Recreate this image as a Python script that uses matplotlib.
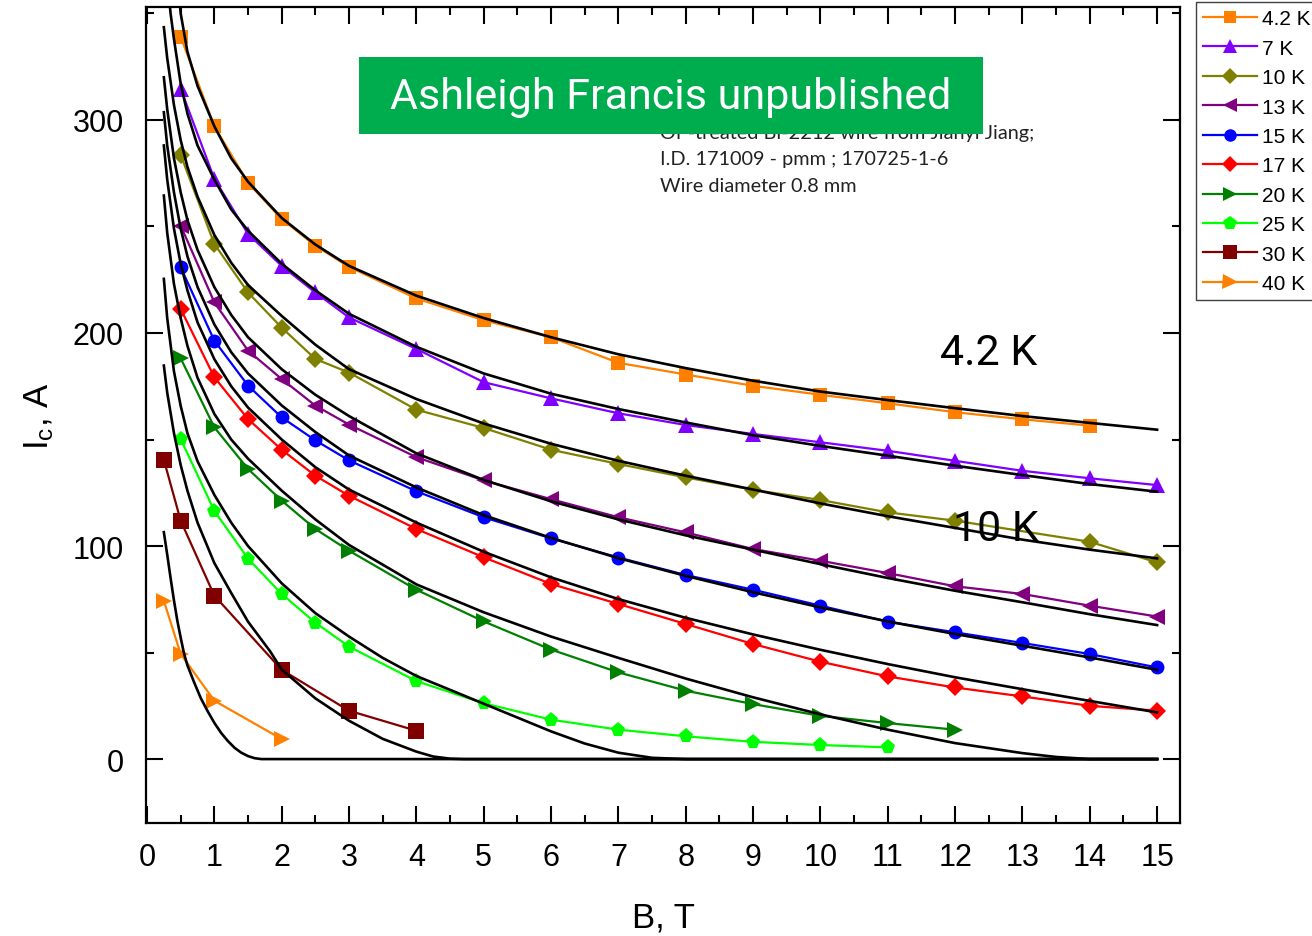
import matplotlib
matplotlib.use("Agg")
import matplotlib.pyplot as plt
from matplotlib.ticker import MultipleLocator
from matplotlib.patches import Rectangle

# ---------------- measured data (Ic vs B) ----------------
temps = ["4.2 K", "7 K", "10 K", "13 K", "15 K", "17 K", "20 K", "25 K", "30 K", "40 K"]

B_42 = [0.5, 1, 1.5, 2, 2.5, 3, 4, 5, 6, 7, 8, 9, 10, 11, 12, 13, 14]
I_42 = [339, 297, 270.5, 253.5, 241, 231, 216.2, 206, 198, 186, 180.5, 175.2, 171, 167, 162.8, 159.5, 156.5]

B_7 = [0.5, 1, 1.5, 2, 2.5, 3, 4, 5, 6, 7, 8, 9, 10, 11, 12, 13, 14, 15]
I_7 = [314.6, 272.3, 246.5, 231.5, 219, 207.3, 192.5, 176.9, 169.3, 162.3, 156.8, 152.6, 148.7, 144.7, 140, 135.3, 131.8, 128.6]

B_10 = [0.5, 1, 1.5, 2, 2.5, 3, 4, 5, 6, 7, 8, 9, 10, 11, 12, 14, 15]
I_10 = [283.6, 241.8, 219, 202.5, 187.8, 181.4, 164, 155.4, 145.2, 138.5, 132.2, 126.4, 121.6, 115.8, 111.9, 102, 92.3]

B_13 = [0.5, 1, 1.5, 2, 2.5, 3, 4, 5, 6, 7, 8, 9, 10, 11, 12, 13, 14, 15]
I_13 = [250.4, 214.4, 191.7, 178.4, 165.9, 157, 141.7, 130.8, 122, 113.5, 106.4, 98.6, 93.1, 87.3, 81.1, 77.5, 72, 66.9]

B_15 = [0.5, 1, 1.5, 2, 2.5, 3, 4, 5, 6, 7, 8, 9, 10, 11, 12, 13, 14, 15]
I_15 = [230.8, 196.4, 175.3, 160.4, 149.6, 140.2, 125.7, 113.5, 103.6, 94.6, 86.4, 79.5, 72, 64.5, 59.5, 54.5, 49.3, 43]

B_17 = [0.5, 1, 1.5, 2, 2.5, 3, 4, 5, 6, 7, 8, 9, 10, 11, 12, 13, 14, 15]
I_17 = [211.3, 179.2, 159.6, 145.2, 133, 123.6, 108, 94.7, 82.2, 72.8, 63.4, 54, 45.7, 38.8, 33.6, 29.4, 25, 22.7]

B_20 = [0.5, 1, 1.5, 2, 2.5, 3, 4, 5, 6, 7, 8, 9, 10, 11, 12]
I_20 = [188.1, 155.7, 136.2, 121.3, 108, 97.8, 79.5, 64.6, 51.4, 40.7, 32.1, 25.8, 20.3, 16.9, 13.8]

B_25 = [0.5, 1, 1.5, 2, 2.5, 3, 4, 5, 6, 7, 8, 9, 10, 11]
I_25 = [150.2, 116.5, 94.1, 77.5, 64, 52.8, 36.6, 26.2, 18.5, 13.8, 10.7, 8.1, 6.6, 5.5]

B_30 = [0.25, 0.5, 1, 2, 3, 4]
I_30 = [140.5, 111.9, 76.7, 41.9, 22.7, 13.3]

B_40 = [0.25, 0.5, 1, 2]
I_40 = [74.3, 49.3, 27.4, 9.4]

# ---------------- fitted curves (black) ----------------
fB_42 = [0.45, 0.5, 0.6, 0.75, 1, 1.25, 1.5, 2, 2.5, 3, 4, 5, 6, 7, 8, 9, 10, 11, 12, 13, 14, 15]
fI_42 = [368, 350, 332, 316, 297, 282, 271, 254, 241.5, 231.5, 217.5, 207, 198, 190, 183.5, 177.6, 172.5, 168.5, 164.7, 161, 157.8, 154.6]

fB_7 = [0.3, 0.35, 0.4, 0.5, 0.6, 0.75, 1, 1.25, 1.5, 2, 2.5, 3, 4, 5, 6, 7, 8, 9, 10, 11, 12, 13, 14, 15]
fI_7 = [366, 350, 338, 317, 303, 288, 272, 258, 248, 232.5, 220, 209, 193.5, 181, 171.5, 164.3, 158, 152, 147, 142.4, 137.7, 133.3, 129.1, 125.5]

fB_10 = [0.25, 0.3, 0.4, 0.5, 0.6, 0.75, 1, 1.25, 1.5, 2, 2.5, 3, 4, 5, 6, 7, 8, 9, 10, 11, 12, 13, 14, 15]
fI_10 = [343.5, 329, 307, 290.5, 278, 264, 246, 233, 222.5, 208, 194.5, 183, 169, 157.5, 148, 140, 133, 126.5, 120, 114, 108.5, 103, 98.3, 94.2]

fB_13 = [0.25, 0.3, 0.4, 0.5, 0.6, 0.75, 1, 1.25, 1.5, 2, 2.5, 3, 4, 5, 6, 7, 8, 9, 10, 11, 12, 13, 14, 15]
fI_13 = [320, 305, 282, 266, 253, 239, 221.5, 208.5, 198, 183, 171, 161, 143.5, 131, 121, 112.5, 105, 98.3, 91.5, 85, 79, 73.6, 68, 62.9]

fB_15 = [0.25, 0.3, 0.4, 0.5, 0.6, 0.75, 1, 1.25, 1.5, 2, 2.5, 3, 4, 5, 6, 7, 8, 9, 10, 11, 12, 13, 14, 15]
fI_15 = [303.6, 288, 266, 249, 236, 221.6, 204, 191, 181, 166, 153.5, 142.5, 127.5, 114.5, 103.8, 94.3, 86, 78.3, 71.2, 64.6, 58.7, 53.2, 47.7, 41.9]

fB_17 = [0.25, 0.3, 0.4, 0.5, 0.6, 0.75, 1, 1.25, 1.5, 2, 2.5, 3, 4, 5, 6, 7, 8, 9, 10, 11, 12, 13, 14, 15]
fI_17 = [288, 272, 249, 232.5, 220, 205, 187.7, 175, 165, 150, 137, 126.5, 111, 97.3, 85.3, 75.1, 66.3, 58.5, 51.3, 44.6, 38.4, 32.8, 27.3, 21.9]

fB_20 = [0.25, 0.3, 0.4, 0.5, 0.6, 0.75, 1, 1.25, 1.5, 2, 2.5, 3, 4, 5, 6, 7, 8, 9, 10, 11, 12, 13, 13.5, 14, 15]
fI_20 = [264.5, 247, 223, 207, 194, 179, 162, 150, 141, 126, 112.5, 100.5, 82, 68.9, 57.5, 47.5, 37.8, 29, 21, 13.8, 7.5, 2.8, 1.0, 0, 0]

fB_25 = [0.25, 0.3, 0.4, 0.5, 0.6, 0.75, 1, 1.25, 1.5, 2, 2.5, 3, 3.5, 4, 5, 5.5, 6, 6.5, 7, 7.5, 8, 15]
fI_25 = [225.4, 207, 182, 165.8, 153, 139.8, 124, 111, 100, 82.5, 68.5, 57.5, 47.5, 39, 26, 19.5, 13, 7.3, 3, 0.6, 0, 0]

fB_30 = [0.25, 0.3, 0.4, 0.5, 0.6, 0.75, 1, 1.25, 1.5, 1.83, 2, 2.5, 3, 3.5, 4, 4.25, 4.5, 4.7, 15]
fI_30 = [184.7, 172, 153, 138, 126, 111, 92, 78, 64.5, 50.5, 42, 28.5, 18, 9.5, 3.5, 1.2, 0.2, 0, 0]

fB_40 = [0.25, 0.3, 0.35, 0.4, 0.45, 0.5, 0.55, 0.6, 0.7, 0.8, 0.9, 1.0, 1.1, 1.2, 1.3, 1.4, 1.5, 1.6, 1.7, 15]
fI_40 = [106.5, 96, 85, 74.5, 65, 57, 49.5, 44, 36, 28.5, 22.5, 17, 12.3, 8.5, 5.3, 3, 1.4, 0.4, 0, 0]

data_B = [B_42, B_7, B_10, B_13, B_15, B_17, B_20, B_25, B_30, B_40]
data_I = [I_42, I_7, I_10, I_13, I_15, I_17, I_20, I_25, I_30, I_40]
fit_B = [fB_42, fB_7, fB_10, fB_13, fB_15, fB_17, fB_20, fB_25, fB_30, fB_40]
fit_I = [fI_42, fI_7, fI_10, fI_13, fI_15, fI_17, fI_20, fI_25, fI_30, fI_40]

colors = ["#FF8000", "#8000FF", "#808000", "#800080", "#0000FF",
          "#FF0000", "#008000", "#00FF00", "#800000", "#FF8000"]
markers = ["s", "^", "D", "<", "o", "D", ">", "p", "s", ">"]
msizes = [10, 11, 9, 11, 10, 9, 11, 11, 11, 12]

# ---------------- figure ----------------
W, H = 1312, 937
fig = plt.figure(figsize=(W / 100, H / 100), dpi=100)
ax = fig.add_axes([146 / W, 1 - 824 / H, (1180 - 146) / W, (824 - 8) / H])

handles = []
for b, i, c, m, s, lab in zip(data_B, data_I, colors, markers, msizes, temps):
    h, = ax.plot(b, i, color=c, marker=m, markersize=s, lw=1.6,
                 markeredgewidth=0, label=lab, zorder=2)
    handles.append(h)

for b, i in zip(fit_B, fit_I):
    ax.plot(b, i, color="black", lw=1.9, zorder=3, solid_joinstyle="round")

ax.set_xlim(-0.015, 15.34)
ax.set_ylim(-30, 353)
ax.set_xticks(range(0, 16))
ax.xaxis.set_minor_locator(MultipleLocator(0.5))
ax.set_yticks([0, 100, 200, 300])
ax.yaxis.set_minor_locator(MultipleLocator(50))
ax.tick_params(which="both", direction="in", top=True, right=True, width=1.5,
               labelsize=22, labelfontfamily="Liberation Sans")
ax.tick_params(which="major", length=12)
ax.tick_params(which="minor", length=6)
ax.tick_params(axis="x", pad=14)
ax.tick_params(axis="y", pad=16)
for sp in ax.spines.values():
    sp.set_linewidth(1.6)

ax.set_xlabel("B, T", fontsize=25, family="Liberation Sans", labelpad=20)
ax.set_ylabel(r"$\mathregular{I_c}$, A", fontsize=25, family="Liberation Sans", labelpad=12)

# legend outside at right (clipped by the figure edge as in the original)
fig.legend(handles=handles, loc="upper left", bbox_to_anchor=(1196 / W, 1 - 3 / H),
           frameon=True, fancybox=False, edgecolor="#404040", framealpha=1,
           prop={"family": "Liberation Sans", "size": 15}, markerscale=0.9,
           handlelength=2.6, handletextpad=0.2, labelspacing=0.5,
           borderpad=0.35, borderaxespad=0)

# annotation text (partly covered by the green banner)
note_font = dict(family=["Lato", "DejaVu Sans"], fontsize=14.3, color="#222222")
fig.text(660 / W, 1 - 133 / H, "OP-treated Bi-2212 wire from Jianyi Jiang;",
         va="center", ha="left", zorder=1, **note_font)
fig.text(660 / W, 1 - 160 / H, "I.D. 171009 - pmm ; 170725-1-6",
         va="center", ha="left", zorder=1, **note_font)
fig.text(660 / W, 1 - 187 / H, "Wire diameter 0.8 mm",
         va="center", ha="left", zorder=1, **note_font)

# green banner
fig.patches.append(Rectangle((359 / W, 1 - 135 / H), (983 - 359) / W, (135 - 58) / H,
                             transform=fig.transFigure, facecolor="#00AD4E",
                             edgecolor="none", zorder=5))
fig.text(671 / W, 1 - 97 / H, "Ashleigh Francis unpublished", color="white",
         family=["Roboto", "DejaVu Sans"], fontweight="normal", fontsize=31,
         ha="center", va="center", zorder=6)

# temperature labels in the plot
ax.text(12.5, 191, "4.2 K", fontsize=31, family=["Roboto", "DejaVu Sans"], fontweight="normal",
        ha="center", va="center", zorder=4)
ax.text(12.6, 108, "10 K", fontsize=31, family=["Roboto", "DejaVu Sans"], fontweight="normal",
        ha="center", va="center", zorder=4)

fig.savefig("out.png", dpi=100)
